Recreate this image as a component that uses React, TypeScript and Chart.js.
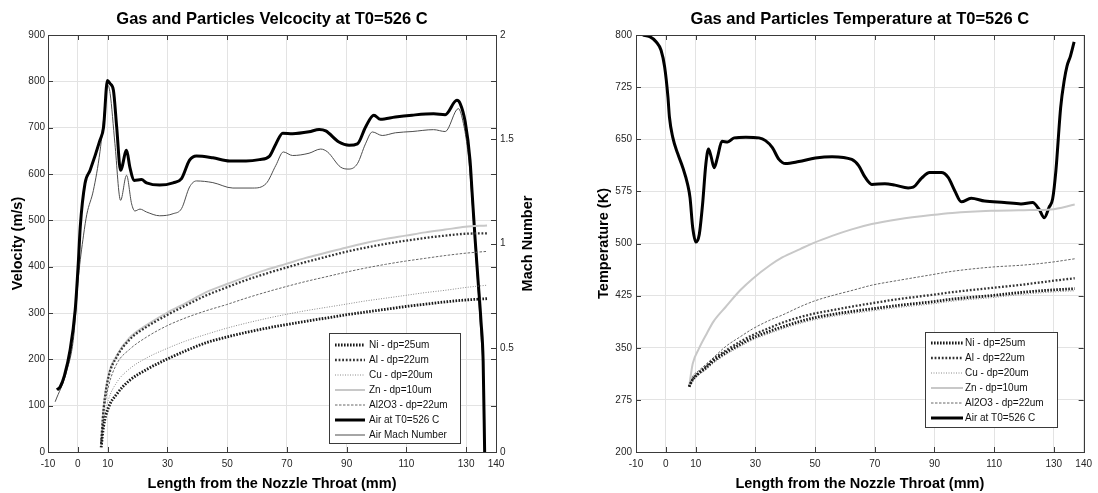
import React, { useEffect, useRef } from 'react';
import { Chart, registerables } from 'chart.js';

Chart.register(...registerables);

// ---------------- data ----------------
const xTickValues = [-10, 0, 10, 30, 50, 70, 90, 110, 130, 140];

const seriesLabels = ['Ni - dp=25um', 'Al - dp=22um', 'Cu - dp=20um', 'Zn - dp=10um', 'Al2O3 - dp=22um'];
const airLabel = 'Air at T0=526 C';
const machLabel = 'Air Mach Number';

// Velocity chart: gas
const velAirX = [-7, -5.9, -4.5, -2.6, -0.9, 0.2, 0.8, 2.4, 4.1, 7.4,
  8.6, 9.9, 10.8, 11.9, 13, 14.3, 16.3, 17.4, 18.8, 21.3,
  23, 27.4, 31.9, 34.7, 37.4, 39.7, 45.2, 50.8, 56.3, 60.8,
  64.1, 66.3, 68.6, 71.9, 77.4, 80.8, 83, 87.4, 90.8, 93.6,
  96.3, 99.1, 101.3, 106.3, 111.9, 119.1, 123, 126.9, 128, 129.7,
  131.3, 132, 133, 134, 135, 135.7, 136.2];
const velAirY = [134, 141, 165, 220, 306, 414, 486, 580, 608, 673,
  701, 802, 795, 781, 701, 608, 651, 615, 586, 588,
  581, 576, 581, 590, 630, 639, 635, 628, 628, 631,
  638, 665, 688, 687, 691, 696, 693, 669, 662, 665,
  701, 727, 718, 723, 727, 730, 728, 759, 752, 712,
  630, 560, 460, 370, 280, 195, 0];

const machX = [-7.6, -3.7, -1.4, 0.2, 1.9, 3, 5.2, 7.4, 9.1, 10,
  10.8, 12.4, 14.3, 16.3, 18, 19.1, 20.8, 23, 27.4, 31.9,
  34.7, 37.4, 39.7, 45.2, 51.9, 58.6, 63, 66.3, 68.8, 71.9,
  77.4, 81.3, 83.6, 88, 90.8, 93.6, 96.3, 98.6, 101.9, 106.3,
  111.9, 119.1, 123, 127.4, 129.1, 130.5, 131.5, 132.5, 134, 135,
  135.7, 136.2];
const machY = [0.241, 0.39, 0.553, 0.84, 1.04, 1.14, 1.255, 1.44, 1.66, 1.76,
  1.72, 1.48, 1.207, 1.327, 1.19, 1.156, 1.165, 1.151, 1.133, 1.143,
  1.167, 1.271, 1.3, 1.292, 1.266, 1.266, 1.287, 1.375, 1.439, 1.422,
  1.433, 1.453, 1.439, 1.366, 1.357, 1.383, 1.478, 1.535, 1.518, 1.531,
  1.537, 1.546, 1.537, 1.647, 1.575, 1.45, 1.3, 1.1, 0.78, 0.55,
  0.38, 0];

// Velocity chart: particles
const velPartX = [7.8, 8.6, 10.2, 13, 17.4, 23, 29.7, 36.3, 43, 49.7, 56.3, 63, 69.7, 76.3, 83, 89.7, 96.3, 103, 109.7, 116.3, 123, 129.7, 137];
const velNi = [10, 55, 95, 125, 155, 178, 200, 219, 236, 248, 258, 267, 275, 282, 289, 296, 302, 308, 314, 319, 324, 328, 331];
const velAl = [19, 91, 160, 205, 243, 270, 295, 317, 338, 355, 371, 385, 398, 410, 421, 432, 441, 449, 456, 462, 467, 471, 472];
const velCu = [14, 65, 112, 150, 180, 203, 223, 240, 254, 267, 278, 288, 297, 305, 312, 319, 326, 332, 338, 344, 349, 355, 360];
const velZn = [22, 95, 165, 208, 247, 274, 300, 322, 345, 362, 378, 393, 406, 419, 430, 441, 451, 460, 467, 474, 480, 486, 489];
const velAl2O3 = [18, 80, 140, 190, 222, 248, 272, 290, 305, 318, 332, 345, 357, 368, 378, 388, 397, 405, 412, 418, 424, 429, 433];

// Temperature chart: gas
const tempAirX = [-7.7, -5.4, -3.2, -1.6, -0.4, 0.7, 1.2, 2.3, 4, 5.7,
  7.3, 8.1, 9, 10.1, 11.2, 12.3, 13.4, 14.3, 15.1, 16.2,
  17.3, 18.8, 20.7, 22.9, 26.8, 31.2, 33.4, 35.7, 37.9, 40.1,
  44.6, 50.1, 55.7, 62.3, 64.6, 66.8, 69, 73.4, 76.8, 81.2,
  82.9, 85.7, 88.4, 92.3, 94.6, 96.8, 99, 102.3, 106.8, 113.4,
  119, 122.9, 125.1, 126.8, 128.4, 129.6, 130.7, 132.3, 133.5, 134.4,
  135.6, 136.8];
const tempAirY = [800, 797.6, 790, 778, 754, 711, 682, 653, 629, 609,
  585, 566, 523, 502, 513, 556, 614, 636, 626, 609,
  624, 647, 646, 652, 653, 652, 648, 638, 621, 615,
  618, 623, 625, 621, 612, 595, 585, 586, 584, 580,
  581, 594, 602, 602, 595, 576, 560, 565, 561, 559,
  557, 559, 549, 537, 552, 564, 605, 696, 735, 755,
  770, 790];

// Temperature chart: particles
const tempPartX = [7.8, 9, 11, 13.4, 16, 20.1, 25, 29, 35, 39, 45, 49.6, 55.7, 62, 69, 78, 89, 96, 109, 120, 129, 137];
const tempNi = [294, 304, 313, 321, 331, 343, 355, 364, 374, 380, 388, 393, 398, 402, 406, 411, 416, 420, 425, 430, 433, 435];
const tempAl = [294, 305, 314, 323, 334, 346, 359, 368, 379, 386, 394, 399, 404, 409, 414, 420, 426, 430, 436, 441, 446, 450];
const tempCu = [294, 303, 311, 318, 328, 340, 352, 361, 371, 377, 385, 390, 395, 399, 403, 408, 413, 417, 422, 427, 430, 432];
const tempZn = [294, 327, 348, 368, 388, 409, 433, 449, 469, 480, 492, 501, 511, 520, 528, 535, 541, 544, 547, 548, 549, 556];
const tempAl2O3 = [296, 309, 317, 326, 336, 352, 366, 377, 390, 397, 409, 417, 425, 432, 440, 447, 455, 460, 466, 469, 473, 478];

// ---------------- styles ----------------
const FONT = '"Liberation Sans", Arial, Helvetica, sans-serif';
const GRID = '#e3e3e3';
const AXIS = '#3a3a3a';
const TICK = '#262626';

const particleStyles = [
  { borderColor: '#1a1a1a', borderWidth: 2.8, borderDash: [1.6, 1.4] },
  { borderColor: '#333333', borderWidth: 2.3, borderDash: [1.8, 1.8] },
  { borderColor: '#8a8a8a', borderWidth: 1, borderDash: [1, 1.5] },
  { borderColor: '#c8c8c8', borderWidth: 2, borderDash: [] },
  { borderColor: '#666666', borderWidth: 1, borderDash: [2.5, 1.5] },
];
const airStyle = { borderColor: '#000000', borderWidth: 3, borderDash: [] };
const machStyle = { borderColor: '#4d4d4d', borderWidth: 1, borderDash: [] };

const pts = (xs: number[], ys: number[]) => xs.map((x, i) => ({ x, y: ys[i] }));

const lineDefaults = {
  pointRadius: 0,
  pointHoverRadius: 0,
  fill: false,
  cubicInterpolationMode: 'monotone' as const,
};

const framePlugin = {
  id: 'matlabFrame',
  afterDraw(chart: any, _args: any, opts: any) {
    const { ctx, chartArea: a, scales } = chart;
    ctx.save();
    const L = 5;
    ctx.strokeStyle = AXIS;
    ctx.lineWidth = 1;
    ctx.setLineDash([]);
    ctx.beginPath();
    const xs = scales.x;
    xs.ticks.forEach((t: any) => {
      const p = Math.round(xs.getPixelForValue(t.value)) + 0.5;
      ctx.moveTo(p, a.bottom); ctx.lineTo(p, a.bottom - L);
      ctx.moveTo(p, a.top); ctx.lineTo(p, a.top + L);
    });
    const ys = scales.y;
    ys.ticks.forEach((t: any) => {
      const p = Math.round(ys.getPixelForValue(t.value)) + 0.5;
      ctx.moveTo(a.left, p); ctx.lineTo(a.left + L, p);
      ctx.moveTo(a.right, p); ctx.lineTo(a.right - L, p);
    });
    if (scales.y1) {
      const y1 = scales.y1;
      y1.ticks.forEach((t: any) => {
        const p = Math.round(y1.getPixelForValue(t.value)) + 0.5;
        ctx.moveTo(a.right, p); ctx.lineTo(a.right - L, p);
      });
    }
    ctx.stroke();
    ctx.strokeRect(Math.round(a.left) + 0.5, Math.round(a.top) + 0.5, Math.round(a.right - a.left), Math.round(a.bottom - a.top));

    if (opts.rightTitle) {
      ctx.save();
      ctx.translate(opts.rightTitleX, (a.top + a.bottom) / 2);
      ctx.rotate(-Math.PI / 2);
      ctx.font = `bold 14.5px ${FONT}`;
      ctx.textAlign = 'center';
      ctx.textBaseline = 'middle';
      ctx.fillStyle = '#000';
      ctx.fillText(opts.rightTitle, 0, 0);
      ctx.restore();
    }

    const lg = opts.legend;
    if (lg) {
      const bx = Math.round(a.right - lg.right - lg.width);
      const by = Math.round(a.bottom - lg.bottom - lg.height);
      ctx.fillStyle = '#fff';
      ctx.fillRect(bx, by, lg.width, lg.height);
      ctx.strokeStyle = AXIS;
      ctx.lineWidth = 1;
      ctx.strokeRect(bx + 0.5, by + 0.5, lg.width, lg.height);
      chart.data.datasets.forEach((ds: any, i: number) => {
        const y = by + lg.firstRow + i * lg.rowH;
        ctx.beginPath();
        ctx.setLineDash(ds.borderDash || []);
        ctx.strokeStyle = ds.borderColor;
        ctx.lineWidth = ds.borderWidth;
        ctx.moveTo(bx + lg.sampleX, y);
        ctx.lineTo(bx + lg.sampleX + lg.sampleLen, y);
        ctx.stroke();
        ctx.setLineDash([]);
        ctx.fillStyle = '#111';
        ctx.font = `10px ${FONT}`;
        ctx.textAlign = 'left';
        ctx.textBaseline = 'middle';
        ctx.fillText(ds.label, bx + lg.textX, y + 0.5);
      });
    }
    ctx.restore();
  },
};

const tickFont = { family: FONT, size: 10 };
const axisTitleFont = { family: FONT, size: 14.5, weight: 'bold' as const };

function xScale() {
  return {
    type: 'linear' as const,
    min: -10,
    max: 140,
    afterBuildTicks: (s: any) => { s.ticks = xTickValues.map((v) => ({ value: v })); },
    afterFit: (s: any) => { s.height = 41; },
    grid: { color: GRID, lineWidth: 1, drawTicks: false },
    border: { display: false },
    ticks: { autoSkip: false, maxRotation: 0, minRotation: 0, padding: 6, font: tickFont, color: TICK, callback: (v: any) => String(v) },
    title: { display: true, text: 'Length from the Nozzle Throat (mm)', font: axisTitleFont, color: '#000', padding: { top: 0, bottom: 0 } },
  };
}

function titleOpts(text: string) {
  return {
    display: true,
    text,
    fullSize: false,
    color: '#000',
    font: { family: FONT, size: 16.5, weight: 'bold' as const, lineHeight: 1.2 },
    padding: { top: 10, bottom: 5.2 },
  };
}

export default function App() {
  const leftRef = useRef<HTMLCanvasElement>(null);
  const rightRef = useRef<HTMLCanvasElement>(null);

  useEffect(() => {
    const velSets: any[] = [velNi, velAl, velCu, velZn, velAl2O3].map((ys, i) => ({
      ...lineDefaults,
      ...particleStyles[i],
      label: seriesLabels[i],
      data: pts(velPartX, ys),
      yAxisID: 'y',
    }));
    velSets.push({ ...lineDefaults, ...airStyle, label: airLabel, data: pts(velAirX, velAirY), yAxisID: 'y' });
    velSets.push({ ...lineDefaults, ...machStyle, label: machLabel, data: pts(machX, machY), yAxisID: 'y1' });

    const left = new Chart(leftRef.current as HTMLCanvasElement, {
      type: 'line',
      data: { datasets: velSets },
      plugins: [framePlugin],
      options: {
        responsive: false,
        animation: false,
        devicePixelRatio: 1,
        layout: { padding: 0 },
        scales: {
          x: xScale(),
          y: {
            type: 'linear',
            min: 0,
            max: 900,
            afterFit: (s: any) => { s.width = 48; },
            grid: { color: GRID, lineWidth: 1, drawTicks: false },
            border: { display: false },
            ticks: { stepSize: 100, padding: 3, font: tickFont, color: TICK },
            title: { display: true, text: 'Velocity (m/s)', font: axisTitleFont, color: '#000', padding: { top: 9, bottom: 0 } },
          },
          y1: {
            type: 'linear',
            position: 'right',
            min: 0,
            max: 2,
            afterFit: (s: any) => { s.width = 53; },
            grid: { drawOnChartArea: false, drawTicks: false },
            border: { display: false },
            ticks: { stepSize: 0.5, padding: 4, font: tickFont, color: TICK, callback: (v: any) => String(v) },
          },
        },
        plugins: {
          legend: { display: false },
          tooltip: { enabled: false },
          title: titleOpts('Gas and Particles Velcocity at T0=526 C'),
          matlabFrame: {
            rightTitle: 'Mach Number',
            rightTitleX: 528,
            legend: { right: 36, bottom: 9, width: 131, height: 110, firstRow: 12, rowH: 15, sampleX: 6, sampleLen: 30, textX: 40 },
          },
        } as any,
      },
    } as any);

    const tempSets: any[] = [tempNi, tempAl, tempCu, tempZn, tempAl2O3].map((ys, i) => ({
      ...lineDefaults,
      ...particleStyles[i],
      label: seriesLabels[i],
      data: pts(tempPartX, ys),
    }));
    tempSets.push({ ...lineDefaults, ...airStyle, label: airLabel, data: pts(tempAirX, tempAirY) });

    const right = new Chart(rightRef.current as HTMLCanvasElement, {
      type: 'line',
      data: { datasets: tempSets },
      plugins: [framePlugin],
      options: {
        responsive: false,
        animation: false,
        devicePixelRatio: 1,
        layout: { padding: { left: 0, right: 14, top: 0, bottom: 0 } },
        scales: {
          x: xScale(),
          y: {
            type: 'linear',
            min: 200,
            max: 800,
            afterFit: (s: any) => { s.width = 87; },
            grid: { color: GRID, lineWidth: 1, drawTicks: false },
            border: { display: false },
            ticks: { stepSize: 75, padding: 4, font: tickFont, color: TICK },
            title: { display: true, text: 'Temperature (K)', font: axisTitleFont, color: '#000', padding: { top: 46, bottom: 0 } },
          },
        },
        plugins: {
          legend: { display: false },
          tooltip: { enabled: false },
          title: titleOpts('Gas and Particles Temperature at T0=526 C'),
          matlabFrame: {
            legend: { right: 27, bottom: 25, width: 132, height: 95, firstRow: 11, rowH: 15, sampleX: 6, sampleLen: 32, textX: 40 },
          },
        } as any,
      },
    } as any);

    return () => {
      left.destroy();
      right.destroy();
    };
  }, []);

  return (
    <div style={{ position: 'fixed', left: 0, top: 0, width: 1098, height: 493, background: '#fff' }}>
      <canvas ref={leftRef} width={549} height={493} style={{ position: 'absolute', left: 0, top: 0, width: 549, height: 493 }} />
      <canvas ref={rightRef} width={549} height={493} style={{ position: 'absolute', left: 549, top: 0, width: 549, height: 493 }} />
    </div>
  );
}
